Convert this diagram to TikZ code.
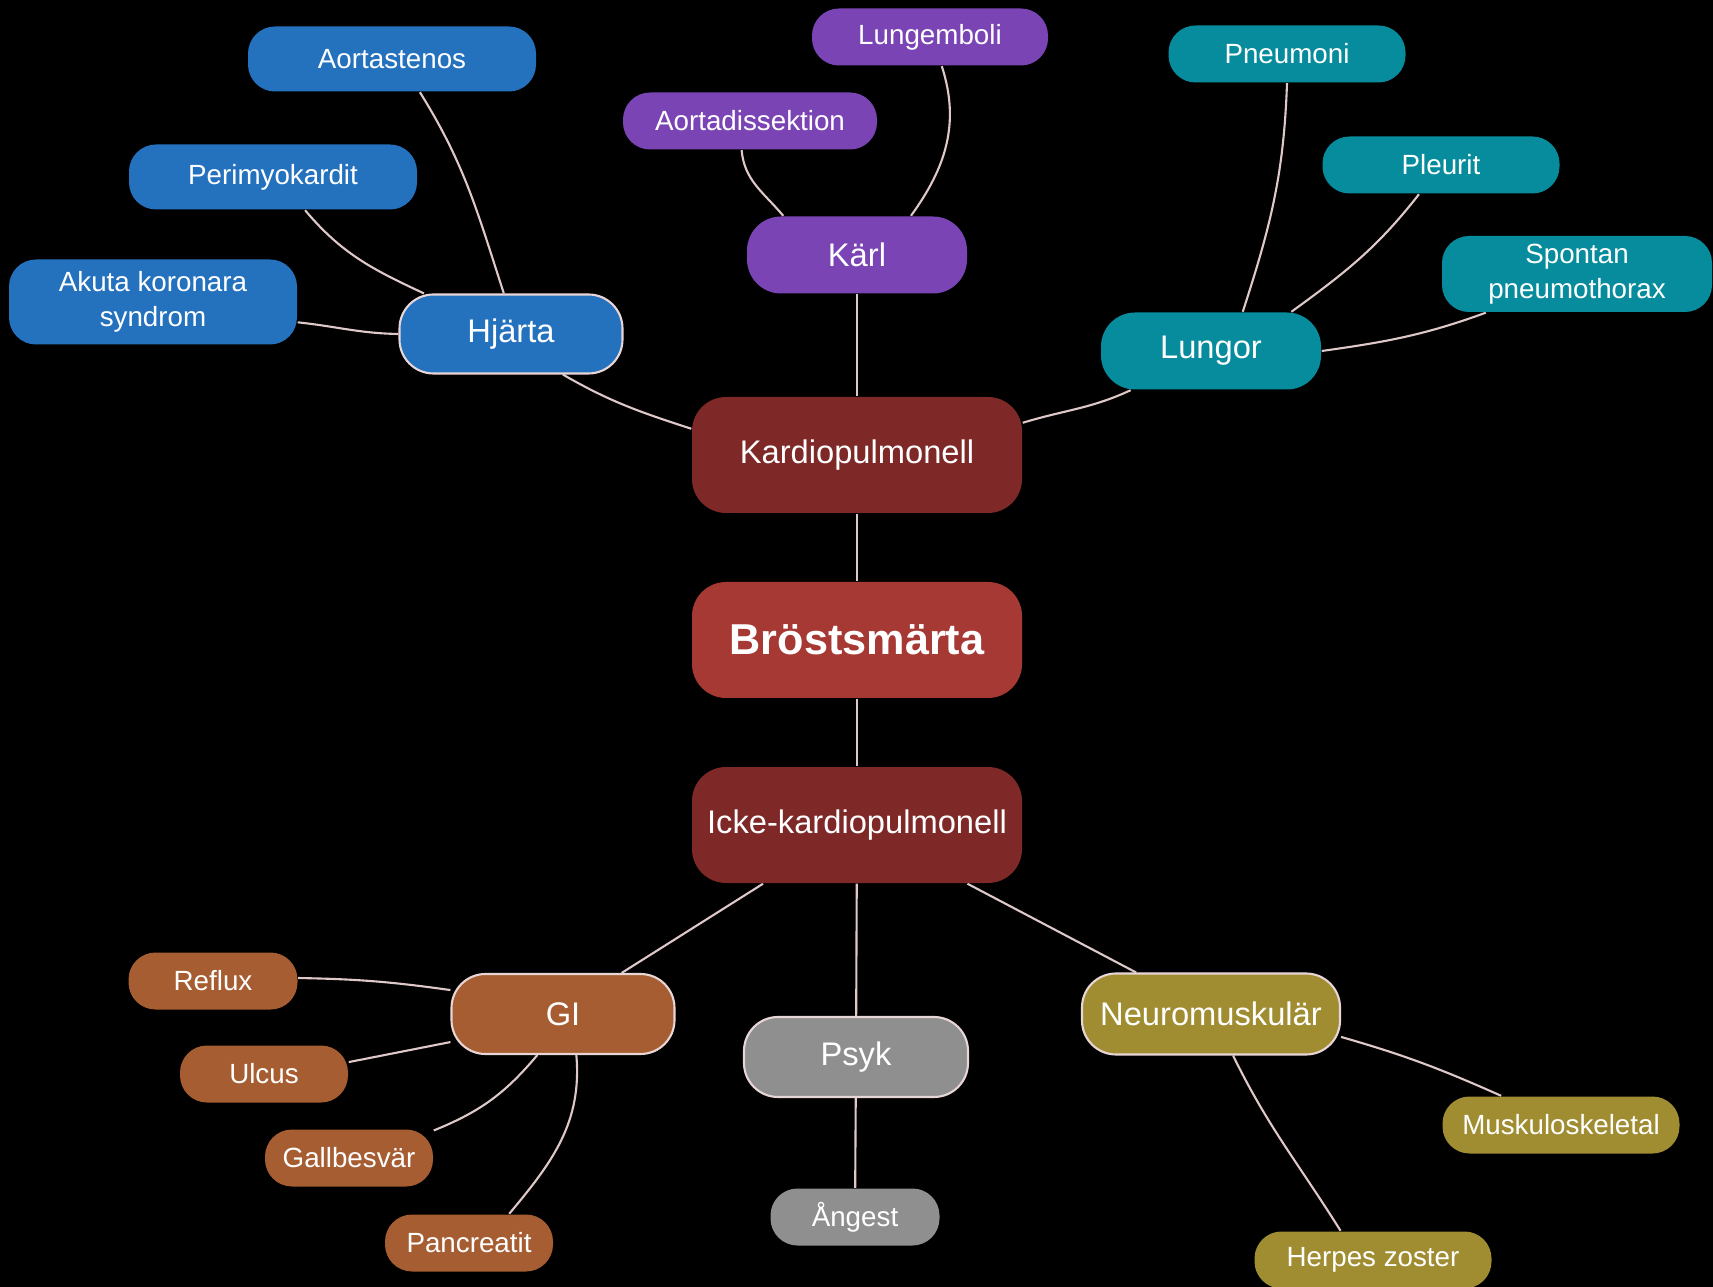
\documentclass[tikz,border=0pt]{standalone}
\usepackage{fontspec}
\setmainfont{Liberation Sans}
\usetikzlibrary{backgrounds}
\definecolor{hjblue}{RGB}{36,113,190}
\definecolor{karlpurple}{RGB}{122,68,180}
\definecolor{lungteal}{RGB}{7,140,157}
\definecolor{kpred}{RGB}{126,40,40}
\definecolor{rootred}{RGB}{167,57,53}
\definecolor{gibrown}{RGB}{166,93,49}
\definecolor{psykgray}{RGB}{143,143,143}
\definecolor{neuroolive}{RGB}{160,141,49}
\definecolor{linkc}{RGB}{222,200,200}
\definecolor{ringc}{RGB}{232,214,214}

\begin{document}
\begin{tikzpicture}[x=0.1mm,y=-0.1mm,
 pill/.style={rounded corners=2.7mm,text=white,align=center,inner sep=0pt,
 font=\fontsize{7.9}{10}\selectfont},
 leaf/.style={pill,minimum height=5.7mm},
 topic/.style={pill,rounded corners=3.4mm,minimum height=7.9mm,
 font=\fontsize{9.3}{11}\selectfont},
 core/.style={pill,rounded corners=3.4mm,fill=kpred,minimum width=33mm,
 minimum height=11.6mm,font=\fontsize{9.3}{11}\selectfont},
 ring/.style={draw=ringc,line width=0.6pt},
 link/.style={draw=linkc,line width=0.6pt}]
\useasboundingbox (0,0) rectangle (1713,1287);
\begin{scope}[on background layer]
\fill[black] (0,0) rectangle (1713,1287);
\end{scope}
% centre
\node[core] (kp) at (857,455) {Kardiopulmonell};
\node[core,fill=rootred,font=\fontsize{12.3}{14}\selectfont\bfseries] (bs) at (857,640) {Bröstsmärta};
\node[core] (icke) at (857,825) {Icke-kardiopulmonell};
% hjarta
\node[topic,fill=hjblue,ring,minimum width=22.3mm] (hj) at (511,334) {Hjärta};
\node[leaf,fill=hjblue,minimum width=28.8mm,minimum height=6.5mm] (aor) at (392,59) {Aortastenos};
\node[leaf,fill=hjblue,minimum width=28.8mm,minimum height=6.5mm] (peri) at (273,177) {Perimyokardit};
\node[leaf,fill=hjblue,minimum width=28.8mm,minimum height=8.5mm] (aks) at (153,302) {Akuta koronara\\syndrom};
% karl
\node[topic,fill=karlpurple,minimum width=22mm,minimum height=7.7mm] (karl) at (857,255) {Kärl};
\node[leaf,fill=karlpurple,minimum width=25.4mm] (ad) at (750,121) {Aortadissektion};
\node[leaf,fill=karlpurple,minimum width=23.6mm] (lemb) at (930,37) {Lungemboli};
% lungor
\node[topic,fill=lungteal,minimum width=22mm,minimum height=7.7mm] (lung) at (1211,351) {Lungor};
\node[leaf,fill=lungteal,minimum width=23.7mm] (pneu) at (1287,54) {Pneumoni};
\node[leaf,fill=lungteal,minimum width=23.7mm] (pleu) at (1441,165) {Pleurit};
\node[leaf,fill=lungteal,minimum width=27mm,minimum height=7.6mm] (spont) at (1577,274) {Spontan\\pneumothorax};
% gi
\node[topic,fill=gibrown,ring,minimum width=22.3mm,minimum height=8mm] (gi) at (563,1014) {GI};
\node[leaf,fill=gibrown,minimum width=16.9mm] (reflux) at (213,981) {Reflux};
\node[leaf,fill=gibrown,minimum width=16.8mm] (ulcus) at (264,1074) {Ulcus};
\node[leaf,fill=gibrown,minimum width=16.8mm] (gall) at (349,1158) {Gallbesvär};
\node[leaf,fill=gibrown,minimum width=16.8mm] (panc) at (469,1243) {Pancreatit};
% psyk
\node[topic,fill=psykgray,ring,minimum width=22.4mm,minimum height=8mm] (psyk) at (856,1057) {Psyk};
\node[leaf,fill=psykgray,minimum width=16.9mm] (ang) at (855,1217) {Ångest};
% neuro
\node[topic,fill=neuroolive,ring,minimum width=25.8mm,minimum height=8.1mm] (neuro) at (1211,1014) {Neuromuskulär};
\node[leaf,fill=neuroolive,minimum width=23.7mm] (musk) at (1561,1125) {Muskuloskeletal};
\node[leaf,fill=neuroolive,minimum width=23.7mm] (herp) at (1373,1260) {Herpes zoster};
\begin{scope}[on background layer]
\draw[link] (kp) -- (bs);
\draw[link] (bs) -- (icke);
\draw[link] (hj.-38) to[out=-30,in=162] (kp.171);
\draw[link] (aor.-50) to[out=-58,in=108] (hj.100);
\draw[link] (peri.-46) to[out=-50,in=155] (hj.155);
\draw[link] (aks.-8) to[out=-6,in=179] (hj.west);
\draw[link] (karl) -- (kp);
\draw[link] (ad.-106) to[out=-85,in=130] (karl.152);
\draw[link] (lemb.-68) to[out=-72,in=54] (karl.36);
\draw[link] (lung.-154) to[out=-155,in=17] (kp.11);
\draw[link] (pneu.south) to[out=-92,in=72] (lung.51);
\draw[link] (pleu.-127) to[out=-128,in=36] (lung.26);
\draw[link] (spont.-157) to[out=-160,in=8] (lung.east);
\draw[link] (icke.-148) -- (gi.35);
\draw[link] (icke) -- (psyk);
\draw[link] (icke.-28) -- (neuro.151);
\draw[link] (reflux.2) to[out=-1,in=172] (gi.168);
\draw[link] (ulcus.8) -- (gi.-166);
\draw[link] (gall.18) to[out=22,in=-130] (gi.-122);
\draw[link] (panc.36) to[out=50,in=-85] (gi.-72);
\draw[link] (psyk) -- (ang);
\draw[link] (neuro.-10) to[out=-16,in=156] (musk.154);
\draw[link] (neuro.-62) to[out=-64,in=122] (herp.138);
\end{scope}
\end{tikzpicture}
\end{document}
